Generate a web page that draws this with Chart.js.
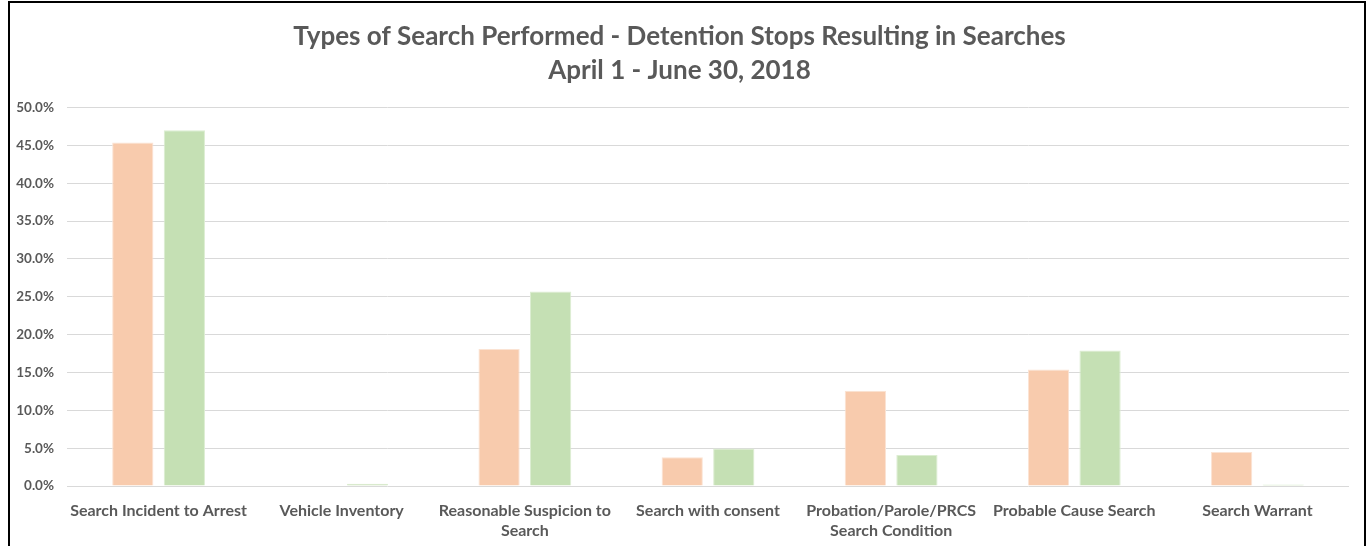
<!DOCTYPE html>
<html>
<head>
<meta charset="utf-8">
<title>Types of Search Performed</title>
<script src="https://cdn.jsdelivr.net/npm/chart.js@4/dist/chart.umd.min.js"></script>
<style>
  html, body { margin: 0; padding: 0; background: #fff; overflow: hidden; }
  #wrap { position: relative; width: 1369px; height: 546px; }
  #frame {
    position: absolute; left: 8px; top: 1px; width: 1354px; height: 600px;
    border: 2px solid #000; pointer-events: none;
  }
</style>
</head>
<body>
<div id="wrap">
  <canvas id="myChart" width="1369" height="546"></canvas>
  <div id="frame"></div>
</div>
<script>
'use strict';

// data (percent of searches)
var categories = [
  'Search Incident to Arrest',
  'Vehicle Inventory',
  ['Reasonable Suspicion to', 'Search'],
  'Search with consent',
  ['Probation/Parole/PRCS', 'Search Condition'],
  'Probable Cause Search',
  'Search Warrant'
];
var series1 = [45.4, 0, 18.1, 3.8, 12.6, 15.4, 4.5];
var series2 = [47.0, 0.3, 25.7, 4.95, 4.1, 17.9, 0.2];
var yTicks = [0, 5, 10, 15, 20, 25, 30, 35, 40, 45, 50];

var titleLines = [
  'Types of Search Performed - Detention Stops Resulting in Searches',
  'April 1 - June 30, 2018'
];

var gray = '#595959';

var ctx = document.getElementById('myChart').getContext('2d');

var chart = new Chart(ctx, {
  type: 'bar',
  data: {
    labels: categories,
    datasets: [{
      label: 'Series 1',
      backgroundColor: '#f8cbad',
      borderColor: '#fbe3d3',
      borderWidth: 1,
      data: series1
    },
    {
      label: 'Series 2',
      backgroundColor: '#c5e0b4',
      borderColor: '#dcedd2',
      borderWidth: 1,
      data: series2
    }]
  },
  options: {
    responsive: false,
    animation: false,
    layout: { padding: { left: 10, right: 20, top: 0, bottom: 0 } },
    categoryPercentage: 0.563,
    barPercentage: 0.8,
    plugins: {
      legend: { display: false },
      tooltip: { enabled: false },
      title: {
        display: true,
        text: titleLines,
        color: gray,
        font: { family: 'Lato', size: 26, weight: 'bold', lineHeight: 1.3 },
        padding: { top: 20, bottom: 20 }
      }
    },
    scales: {
      x: {
        grid: { display: false },
        border: { display: false },
        ticks: {
          color: gray,
          maxRotation: 0,
          autoSkip: false,
          padding: 7,
          font: { family: 'Lato', size: 16, weight: 'bold', lineHeight: 1.25 }
        },
        afterFit: function (scale) { scale.height = 60; }
      },
      y: {
        min: 0,
        max: 50,
        afterBuildTicks: function (scale) {
          scale.ticks = yTicks.map(function (v) { return { value: v }; });
        },
        grid: { color: '#d9d9d9', drawTicks: false, lineWidth: 1 },
        border: { display: false },
        ticks: {
          color: gray,
          padding: 13,
          font: { family: 'Lato', size: 13.5, weight: 'bold' },
          callback: function (v) { return v.toFixed(1) + '%'; }
        },
        afterFit: function (scale) { scale.width = 57; }
      }
    }
  }
});
</script>
</body>
</html>
